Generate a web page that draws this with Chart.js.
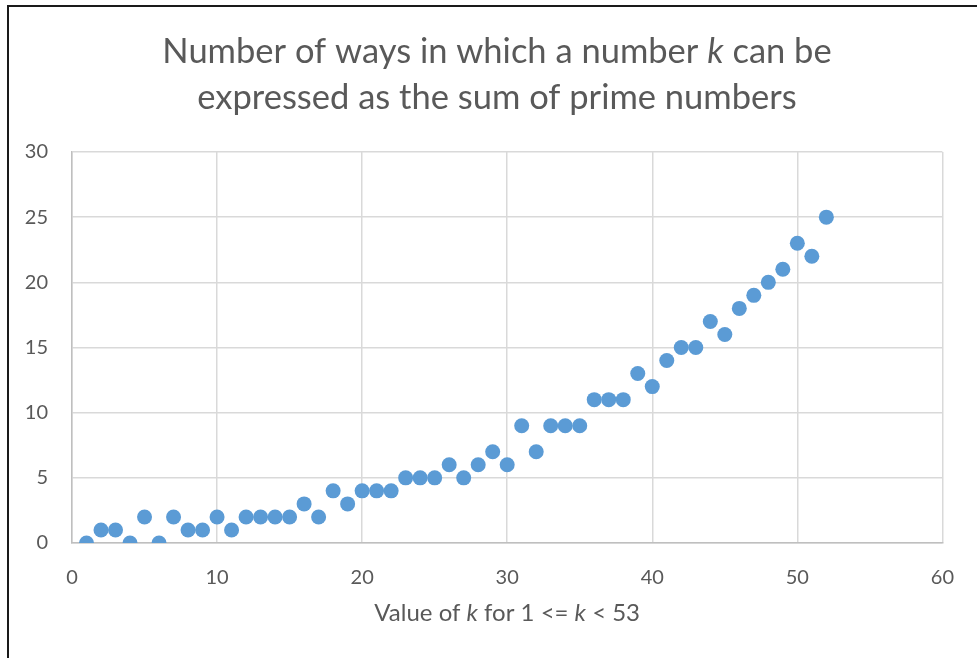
<!DOCTYPE html>
<html>
<head>
<meta charset="utf-8">
<script src="https://cdn.jsdelivr.net/npm/chart.js@4/dist/chart.umd.min.js"></script>
<style>
  html, body { margin: 0; padding: 0; background: #fff; }
  canvas { display: block; }
</style>
</head>
<body>
<canvas id="chart" width="977" height="658"></canvas>
<script>
// k values and number of ways to write k as a sum of primes
const kValues = [
  1, 2, 3, 4, 5, 6, 7, 8, 9, 10, 11, 12, 13, 14, 15, 16, 17, 18, 19, 20, 21, 22, 23, 24, 25, 26,
  27, 28, 29, 30, 31, 32, 33, 34, 35, 36, 37, 38, 39, 40, 41, 42, 43, 44, 45, 46, 47, 48, 49, 50, 51, 52,
]
const ways = [
  0, 1, 1, 0, 2, 0, 2, 1, 1, 2, 1, 2, 2, 2, 2, 3, 2, 4, 3, 4, 4, 4, 5, 5, 5, 6,
  5, 6, 7, 6, 9, 7, 9, 9, 9, 11, 11, 11, 13, 12, 14, 15, 15, 17, 16, 18, 19, 20, 21, 23, 22, 25,
]
const titleLines = [
  [['Number of ways in which a number ', false], ['k', true], [' can be', false]],
  [['expressed as the sum of prime numbers', false]],
]
const xTitle = [['Value of ', false], ['k', true], [' for 1 <= ', false], ['k', true], [' < 53', false]]

const FONT = 'Lato, "Open Sans", sans-serif'
const TEXT = '#595959'

// draws a line of text made of plain / italic pieces, centred on cx
function drawRich(ctx, parts, cx, cy, size) {
  const fontFor = (it) => `${it ? 'italic ' : ''}${size}px ${FONT}`
  let total = 0
  parts.forEach(([t, it]) => {
    ctx.font = fontFor(it)
    total += ctx.measureText(t).width
  })
  let x = cx - total / 2
  ctx.textBaseline = 'middle'
  ctx.textAlign = 'left'
  parts.forEach(([t, it]) => {
    ctx.font = fontFor(it)
    ctx.fillText(t, x, cy)
    x += ctx.measureText(t).width
  })
}

const decorations = {
  id: 'decorations',
  beforeDraw(chart) {
    const ctx = chart.ctx
    ctx.save()
    ctx.fillStyle = '#fff'
    ctx.fillRect(0, 0, chart.width, chart.height)
    // frame
    ctx.strokeStyle = '#1a1a1a'
    ctx.lineWidth = 2
    ctx.beginPath()
    ctx.moveTo(8, chart.height)
    ctx.lineTo(8, 6)
    ctx.lineTo(chart.width, 6)
    ctx.stroke()
    ctx.restore()
  },
  afterDraw(chart) {
    const ctx = chart.ctx
    const area = chart.chartArea
    ctx.save()
    ctx.fillStyle = TEXT
    drawRich(ctx, titleLines[0], 497, 52, 34.5)
    drawRich(ctx, titleLines[1], 497, 98, 34.5)
    drawRich(ctx, xTitle, (area.left + area.right) / 2, 613, 24)
    ctx.restore()
  },
}

new Chart(document.getElementById('chart'), {
  type: 'scatter',
  data: {
    datasets: [
      {
        data: kValues.map((k, i) => ({ x: k, y: ways[i] })),
        backgroundColor: '#5b9bd5',
        borderWidth: 0,
        pointRadius: 7.5,
        pointHoverRadius: 7.5,
      },
    ],
  },
  options: {
    responsive: false,
    animation: false,
    layout: {
      padding: { top: 152, right: 32, bottom: 0, left: 0 },
    },
    plugins: {
      legend: { display: false },
      tooltip: { enabled: false },
    },
    scales: {
      x: {
        type: 'linear',
        min: 0,
        max: 60,
        afterFit: (scale) => {
          scale.height = 115
        },
        ticks: {
          stepSize: 10,
          padding: 23,
          color: TEXT,
          font: { family: FONT, size: 20 },
        },
        grid: {
          color: '#d9d9d9',
          lineWidth: 1.5,
          drawTicks: false,
        },
        border: { color: '#bfbfbf', width: 1.5 },
      },
      y: {
        min: 0,
        max: 30,
        afterFit: (scale) => {
          scale.width = 72
        },
        ticks: {
          stepSize: 5,
          padding: 24,
          color: TEXT,
          font: { family: FONT, size: 20 },
        },
        grid: {
          color: '#d9d9d9',
          lineWidth: 1.5,
          drawTicks: false,
        },
        border: { color: '#bfbfbf', width: 1.5 },
      },
    },
  },
  plugins: [decorations],
})
</script>
</body>
</html>
